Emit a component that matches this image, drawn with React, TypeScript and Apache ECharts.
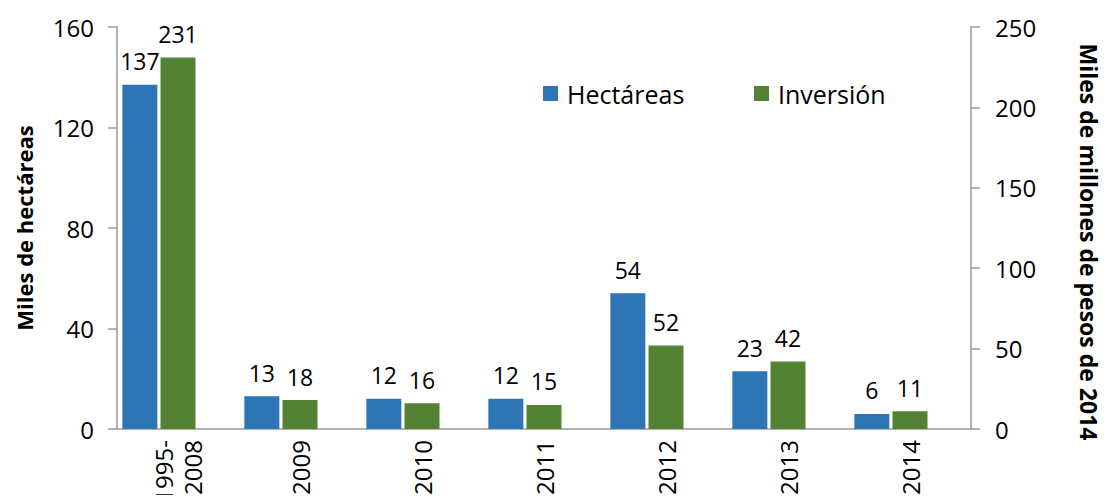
import React, { useEffect, useRef } from "react";
import * as echarts from "echarts";

const categories = ["1995-\n2008", "2009", "2010", "2011", "2012", "2013", "2014"];
const hectareas = [137, 13, 12, 12, 54, 23, 6];
const inversion = [231, 18, 16, 15, 52, 42, 11];
const spacer = [null, null, null, null, null, null, null];

const FONT = "Open Sans";

export default function App() {
  const ref = useRef<HTMLDivElement>(null);
  useEffect(() => {
    const chart = echarts.init(ref.current!, null, { renderer: "svg" });
    const labelStyle = {
      show: true,
      position: "top",
      distance: 12,
      fontFamily: FONT,
      fontSize: 23,
      color: "#000",
    };
    const legendText = { fontFamily: FONT, fontSize: 25, color: "#000", padding: [0, 0, 0, 4] };
    chart.setOption({
      animation: false,
      textStyle: { fontFamily: FONT },
      grid: { left: 117, right: 138, top: 27, bottom: 74, containLabel: false, outerBoundsMode: "none" },
      legend: [
        {
          data: ["Hectáreas"],
          top: 76,
          left: 538,
          itemWidth: 15,
          itemHeight: 15,
          icon: "rect",
          textStyle: legendText,
        },
        {
          data: ["Inversión"],
          top: 76,
          left: 749,
          itemWidth: 15,
          itemHeight: 15,
          icon: "rect",
          textStyle: legendText,
        },
      ],
      xAxis: {
        type: "category",
        data: categories,
        axisLine: { lineStyle: { color: "#9a9a9a", width: 1.5 } },
        axisTick: { length: 8, lineStyle: { color: "#9a9a9a", width: 1.5 } },
        axisLabel: {
          rotate: 90,
          fontFamily: FONT,
          fontSize: 24,
          color: "#000",
          margin: 11,
          lineHeight: 29,
        },
      },
      yAxis: [
        {
          type: "value",
          min: 0,
          max: 160,
          interval: 40,
          name: "Miles de hectáreas",
          nameLocation: "middle",
          nameGap: 82,
          nameMoveOverlap: false,
          nameTextStyle: { fontFamily: FONT, fontSize: 22, fontWeight: "bold", color: "#000" },
          axisLine: { show: true, lineStyle: { color: "#9a9a9a", width: 1.5 } },
          axisTick: { show: true, length: 9, lineStyle: { color: "#9a9a9a", width: 1.5 } },
          axisLabel: { fontFamily: FONT, fontSize: 24, color: "#000", margin: 23 },
          splitLine: { show: false },
        },
        {
          type: "value",
          min: 0,
          max: 250,
          interval: 50,
          name: "Miles de millones de pesos de 2014",
          nameLocation: "middle",
          nameGap: 106,
          nameRotate: -90,
          nameMoveOverlap: false,
          nameTextStyle: {
            fontFamily: FONT,
            fontSize: 23,
            fontWeight: "bold",
            color: "#000",
            padding: [0, 0, 0, 28],
          },
          axisLine: { show: true, lineStyle: { color: "#9a9a9a", width: 1.5 } },
          axisTick: { show: true, length: 9, lineStyle: { color: "#9a9a9a", width: 1.5 } },
          axisLabel: { fontFamily: FONT, fontSize: 24, color: "#000", margin: 24 },
          splitLine: { show: false },
        },
      ],
      series: [
        {
          name: "Hectáreas",
          type: "bar",
          yAxisIndex: 0,
          data: hectareas,
          barWidth: 35,
          barGap: "9%",
          itemStyle: { color: "#2E75B6" },
          label: labelStyle,
        },
        {
          name: "Inversión",
          type: "bar",
          yAxisIndex: 1,
          data: inversion,
          barWidth: 35,
          barGap: "9%",
          itemStyle: { color: "#548235" },
          label: labelStyle,
        },
        {
          name: "spacer",
          type: "bar",
          yAxisIndex: 0,
          data: spacer,
          barWidth: 35,
          barGap: "9%",
          silent: true,
        },
      ],
    });
    return () => chart.dispose();
  }, []);
  return <div ref={ref} style={{ width: 1109, height: 503, margin: -8 }} />;
}
